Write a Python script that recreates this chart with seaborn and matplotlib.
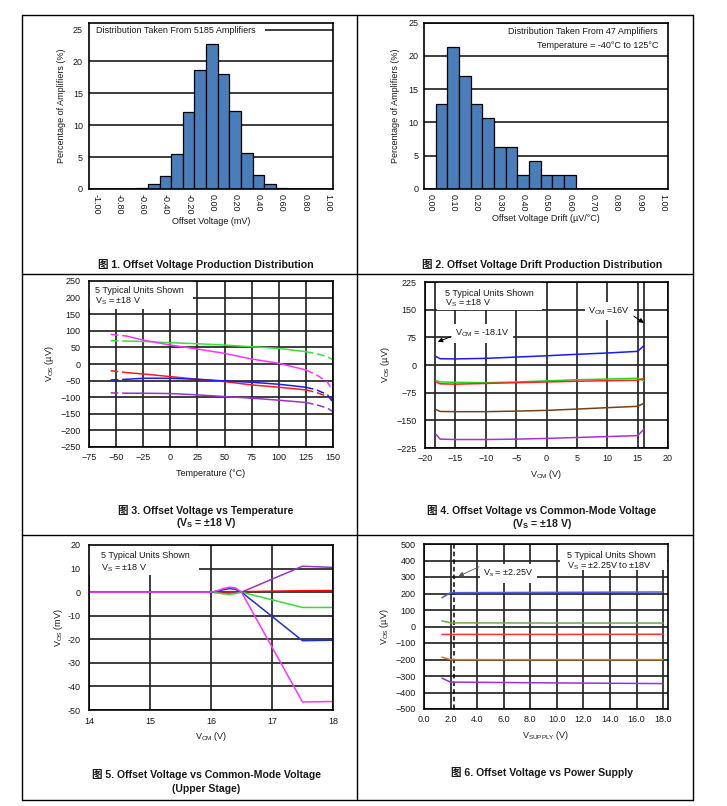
"""Offset voltage characteristics: six panel datasheet figure (Fig 1 - Fig 6)"""

import matplotlib

matplotlib.use("Agg")
import matplotlib.pyplot as plt
from matplotlib.lines import Line2D
from matplotlib.patches import Rectangle
import seaborn as sns

W, H = 727, 806

##### Data ###################################################################
# Fig 1: offset voltage histogram (bin centre in mV, percent of amplifiers)
offset_bins = [-0.7, -0.6, -0.5, -0.4, -0.3, -0.2, -0.1, 0.0, 0.1, 0.2, 0.3, 0.4, 0.5, 0.6, 0.7]
offset_pct = [0.05, 0.2, 0.75, 2.0, 5.45, 12.05, 18.6, 22.8, 18.0, 12.25, 5.65, 2.25, 0.75, 0.2, 0.05]
offset_ticks = [-1.0, -0.8, -0.6, -0.4, -0.2, 0.0, 0.2, 0.4, 0.6, 0.8, 1.0]
offset_ticklabels = ["-1.00", "-0.80", "-0.60", "-0.40", "-0.20", "0.00",
                     "0.20", "0.40", "0.60", "0.80", "1.00"]

# Fig 2: offset drift histogram (bin centre in uV/C, percent of 47 amplifiers)
drift_bins = [0.05, 0.10, 0.15, 0.20, 0.25, 0.30, 0.35, 0.40, 0.45, 0.50, 0.55, 0.60]
drift_pct = [12.77, 21.28, 17.02, 12.77, 10.64, 6.38, 6.38, 2.13, 4.26, 2.13, 2.13, 2.13]
drift_ticks = [0.0, 0.1, 0.2, 0.3, 0.4, 0.5, 0.6, 0.7, 0.8, 0.9, 1.0]
drift_ticklabels = ["0.00", "0.10", "0.20", "0.30", "0.40", "0.50",
                    "0.60", "0.70", "0.80", "0.90", "1.00"]

# Fig 3: Vos (uV) vs temperature (C); ends (first / last segments) are dashed
temp_c = [-55, -40, -25, 0, 25, 50, 75, 100, 125, 135, 145, 150]
temp_green = [70, 69, 68, 64, 61, 57, 52, 47, 37, 31, 22, 12]
temp_magenta = [89, 84, 72, 57, 45, 32, 15, 2, -18, -33, -55, -83]
temp_red = [-20, -26, -30, -38, -46, -53, -63, -70, -78, -86, -98, -108]
temp_blue = [-48, -46, -43, -43, -46, -51, -55, -61, -70, -78, -93, -116]
temp_purple = [-87, -88, -88, -89, -93, -98, -103, -109, -116, -123, -133, -144]

# Fig 4: Vos (uV) vs common-mode voltage (V)
vcm = [-18.2, -17.5, -15, -10, -5, 0, 5, 10, 15, 16]
vcm_blue = [23, 17, 16.5, 18, 21.5, 25, 29, 32.5, 37, 52]
vcm_green = [-42, -46, -47, -48, -46, -43, -40, -38, -36, -43]
vcm_red = [-46, -51, -52, -50, -48, -46, -44, -42.5, -41.5, -36]
vcm_brown = [-121, -126, -126.5, -126.5, -125, -123, -119.5, -115.7, -112, -104]
vcm_purple = [-188, -201, -202, -202, -201, -199, -196.5, -194, -191.5, -175]

# Fig 5: Vos (mV) vs common-mode voltage, upper stage (V)
vcm_up = [14.0, 16.0, 16.1, 16.2, 16.3, 16.4, 16.5, 17.5, 18.0]
up_purple = [0, 0, -0.2, -0.5, -0.5, -0.3, 0, 11.0, 10.5]
up_red = [0, 0, 0, 0.1, 0.2, 0.2, 0.2, 0.6, 0.7]
up_green = [0, 0, -0.3, -0.7, -0.9, -0.6, 0, -6.5, -6.5]
up_blue = [0, 0, 0.4, 1.0, 1.5, 1.2, 0, -20.6, -20.4]
up_magenta = [0, 0, 0.6, 1.5, 2.1, 1.8, 0, -46.6, -46.4]
up_xticks = [14, 15, 16, 17, 18]
up_yticks = [-50, -40, -30, -20, -10, 0, 10, 20]
up_yticklabels = ["-50", "-40", "-30", "-20", "-10", "0", "10", "20"]

# Fig 6: Vos (uV) vs supply voltage (V)
vsupply = [1.35, 2.0, 10.0, 18.0]
sup_blue = [174, 205, 207, 209]
sup_green = [34, 22, 21, 21]
sup_red = [-48, -48, -48, -47]
sup_orange = [-186, -201, -201, -201]
sup_purple = [-313, -337, -342, -346]
sup_xticks = [0, 2, 4, 6, 8, 10, 12, 14, 16, 18]
sup_xticklabels = ["0.0", "2.0", "4.0", "6.0", "8.0", "10.0", "12.0", "14.0", "16.0", "18.0"]

##### Style #####################################################################
sns.set_style("white")
plt.rcParams["font.family"] = ["Liberation Sans", "DejaVu Sans"]
plt.rcParams["font.size"] = 6.5
TXT = "#1a1a1a"
GRID = "#262626"
GRID_LW = 1.25
BAR = "#4a7ebb"
CAPTION_FONT = ["Liberation Sans", "Noto Sans CJK SC", "DejaVu Sans"]
DASH = (0, (5, 2.5))


def px_rect(l, t, r, b):
    return [l / W, 1 - b / H, (r - l) / W, (b - t) / H]


def frame(ax, ticklen=0, xpad=4.3, ypad=6):
    for sp in ax.spines.values():
        sp.set_visible(True)
        sp.set_color("black")
        sp.set_linewidth(1.2)
    ax.tick_params(axis="both", labelsize=6.5, colors=TXT, length=ticklen,
                   width=0.8, direction="out")
    ax.tick_params(axis="x", pad=xpad)
    ax.tick_params(axis="y", pad=ypad)
    ax.set_axisbelow(True)


def labels(ax, xlabel, ylabel, xy, yx):
    ax.set_xlabel(xlabel, fontsize=6.5, color=TXT, va="center")
    ax.set_ylabel(ylabel, fontsize=6.5, color=TXT, va="center")
    ax.xaxis.set_label_coords(0.5, xy)
    ax.yaxis.set_label_coords(yx, 0.5)


def white_box(ax, x0, y0, x1, y1):
    ax.add_patch(Rectangle((x0, y0), x1 - x0, y1 - y0, transform=ax.transAxes,
                           facecolor="white", edgecolor="none", zorder=1.5))


def box_text(ax, x, y, s, ha="left"):
    ax.text(x, y, s, transform=ax.transAxes, ha=ha, va="center",
            fontsize=6.5, color=TXT, zorder=3)


fig = plt.figure(figsize=(W / 100, H / 100), dpi=100)

##### Fig 1 #####################################################################
ax1 = fig.add_axes(px_rect(89, 22.5, 333, 189))
sns.barplot(x=offset_bins, y=offset_pct, native_scale=True, width=1, color=BAR,
            saturation=1, edgecolor="black", linewidth=0.9, errorbar=None, ax=ax1)
ax1.set_xlim(-1.058, 1.043)
ax1.set_ylim(0, 26.1)
ax1.set_yticks([0, 5, 10, 15, 20, 25])
ax1.set_xticks(offset_ticks, offset_ticklabels, rotation=-90)
ax1.grid(False)
ax1.grid(True, axis="y", color=GRID, lw=GRID_LW)
frame(ax1, ticklen=2.5, xpad=1, ypad=1.8)
labels(ax1, "Offset Voltage (mV)", "Percentage of Amplifiers (%)", -0.195, -0.112)
white_box(ax1, 0, 0.905, 0.72, 0.995)
box_text(ax1, 0.027, 0.949, "Distribution Taken From 5185 Amplifiers")

##### Fig 2 #####################################################################
ax2 = fig.add_axes(px_rect(424, 22.5, 668, 189))
sns.barplot(x=drift_bins, y=drift_pct, native_scale=True, width=1, color=BAR,
            saturation=1, edgecolor="black", linewidth=0.9, errorbar=None, ax=ax2)
ax2.set_xlim(-0.025, 1.021)
ax2.set_ylim(0, 25)
ax2.set_yticks([0, 5, 10, 15, 20, 25])
ax2.set_xticks(drift_ticks, drift_ticklabels, rotation=-90)
ax2.grid(False)
ax2.grid(True, axis="y", color=GRID, lw=GRID_LW)
frame(ax2, ticklen=2.5, xpad=1, ypad=1.5)
labels(ax2, "Offset Voltage Drift (\u00b5V/\u00b0C)", "Percentage of Amplifiers (%)",
       -0.175, -0.116)
box_text(ax2, 0.959, 0.945, "Distribution Taken From 47 Amplifiers", ha="right")
box_text(ax2, 0.959, 0.859, "Temperature = -40\u00b0C to 125\u00b0C", ha="right")

##### Fig 3 #####################################################################
ax3 = fig.add_axes(px_rect(89, 281, 333, 447))
for vals, col in [(temp_green, "#33e633"), (temp_magenta, "#ff33ff"),
                  (temp_red, "#ff1a1a"), (temp_blue, "#1a1aff"),
                  (temp_purple, "#9933cc")]:
    sns.lineplot(x=temp_c[0:2], y=vals[0:2], color=col, lw=1.1, ls=DASH, ax=ax3)
    sns.lineplot(x=temp_c[1:9], y=vals[1:9], color=col, lw=1.1, ax=ax3)
    sns.lineplot(x=temp_c[8:], y=vals[8:], color=col, lw=1.1, ls=DASH, ax=ax3)
ax3.set_xlim(-75, 150)
ax3.set_ylim(-250, 250)
ax3.set_xticks(list(range(-75, 151, 25)))
ax3.set_yticks(list(range(-250, 251, 50)))
ax3.grid(True, color=GRID, lw=GRID_LW)
frame(ax3)
labels(ax3, "Temperature (\u00b0C)", "V$_\\mathregular{OS}$ (\u00b5V)", -0.158, -0.16)
white_box(ax3, 0, 0.834, 0.428, 0.997)
box_text(ax3, 0.025, 0.942, "5 Typical Units Shown")
box_text(ax3, 0.025, 0.880, "V$_\\mathregular{S}$ = \u00b118 V")

##### Fig 4 #####################################################################
ax4 = fig.add_axes(px_rect(425, 282, 668, 448))
for vals, col in [(vcm_blue, "#1a1aee"), (vcm_green, "#1add1a"),
                  (vcm_red, "#ff2020"), (vcm_brown, "#7b3f10"),
                  (vcm_purple, "#a632d9")]:
    sns.lineplot(x=vcm, y=vals, color=col, lw=1.1, ax=ax4)
ax4.axvline(-18.4, color=GRID, lw=GRID_LW, zorder=0.6)
ax4.axvline(16.1, color=GRID, lw=GRID_LW, zorder=0.6)
ax4.set_xlim(-20, 20)
ax4.set_ylim(-225, 225)
ax4.set_xticks(list(range(-20, 21, 5)))
ax4.set_yticks(list(range(-225, 226, 75)))
ax4.grid(True, color=GRID, lw=GRID_LW)
frame(ax4)
labels(ax4, "V$_\\mathregular{CM}$ (V)", "V$_\\mathregular{OS}$ (\u00b5V)", -0.158, -0.162)
white_box(ax4, 0.048, 0.83, 0.48, 0.997)
box_text(ax4, 0.082, 0.928, "5 Typical Units Shown")
box_text(ax4, 0.082, 0.872, "V$_\\mathregular{S}$ = \u00b118 V")
ax4.text(-15.1, 85, "V$_\\mathregular{CM}$ = -18.1V", ha="left", va="center",
         fontsize=6.5, color=TXT, zorder=3,
         bbox=dict(facecolor="white", edgecolor="none", pad=2.5))
ax4.annotate("", xy=(-17.9, 63), xytext=(-15.7, 77),
             arrowprops=dict(arrowstyle="-|>", color="black", lw=0.7,
                             mutation_scale=7, shrinkA=0, shrinkB=0), zorder=3)
ax4.text(6.9, 146, "V$_\\mathregular{CM}$ =16V", ha="left", va="center",
         fontsize=6.5, color=TXT, zorder=3,
         bbox=dict(facecolor="white", edgecolor="none", pad=2.5))
ax4.annotate("", xy=(16.05, 114), xytext=(14.4, 132),
             arrowprops=dict(arrowstyle="-|>", color="black", lw=0.7,
                             mutation_scale=7, shrinkA=0, shrinkB=0), zorder=3)

##### Fig 5 #####################################################################
ax5 = fig.add_axes(px_rect(89, 545, 333, 710))
for vals, col in [(up_purple, "#9933cc"), (up_red, "#ff0000"),
                  (up_green, "#33dd33"), (up_blue, "#1a33cc"),
                  (up_magenta, "#ff33ff")]:
    sns.lineplot(x=vcm_up, y=vals, color=col, lw=1.1, ax=ax5)
ax5.set_xlim(14, 18)
ax5.set_ylim(-50, 20)
ax5.set_xticks(up_xticks, [str(v) for v in up_xticks])
ax5.set_yticks(up_yticks, up_yticklabels)
ax5.grid(True, color=GRID, lw=GRID_LW)
frame(ax5, xpad=5)
labels(ax5, "V$_\\mathregular{CM}$ (V)", "V$_\\mathregular{OS}$ (mV)", -0.162, -0.126)
white_box(ax5, 0, 0.818, 0.449, 0.997)
box_text(ax5, 0.048, 0.935, "5 Typical Units Shown")
box_text(ax5, 0.048, 0.859, "V$_\\mathregular{S}$ = \u00b118 V")

##### Fig 6 #####################################################################
ax6 = fig.add_axes(px_rect(424, 544, 668, 709))
for vals, col in [(sup_blue, "#4d5ee0"), (sup_green, "#6aa84f"),
                  (sup_red, "#ff3333"), (sup_orange, "#e86f1c"),
                  (sup_purple, "#9b30d9")]:
    sns.lineplot(x=vsupply, y=vals, color=col, lw=1.1, ax=ax6)
ax6.axvline(2.25, color="black", lw=1.1, ls=(0, (3, 2)), zorder=1.8)
ax6.set_xlim(0, 18.37)
ax6.set_ylim(-500, 500)
ax6.set_xticks(sup_xticks, sup_xticklabels)
ax6.set_yticks(list(range(-500, 501, 100)))
ax6.grid(True, color=GRID, lw=GRID_LW)
frame(ax6)
labels(ax6, "V$_\\mathregular{SUPPLY}$ (V)", "V$_\\mathregular{OS}$ (\u00b5V)", -0.158, -0.16)
white_box(ax6, 0.558, 0.843, 0.997, 0.997)
box_text(ax6, 0.585, 0.933, "5 Typical Units Shown")
box_text(ax6, 0.585, 0.868, "V$_\\mathregular{S}$ = \u00b12.25V to \u00b118V")
ax6.text(4.45, 322, "V$_\\mathregular{s}$ = \u00b12.25V", ha="left", va="center",
         fontsize=6.5, color=TXT, zorder=3,
         bbox=dict(facecolor="white", edgecolor="none", pad=2.5))
ax6.annotate("", xy=(2.6, 305), xytext=(4.15, 362),
             arrowprops=dict(arrowstyle="-|>", color="#555555", lw=0.6,
                             mutation_scale=7, shrinkA=0, shrinkB=0), zorder=3)

##### Table frame and captions ##################################################
def fig_line(x0, y0, x1, y1):
    fig.add_artist(Line2D([x0 / W, x1 / W], [1 - y0 / H, 1 - y1 / H],
                          transform=fig.transFigure, color="black", lw=1.0))


fig_line(22, 15, 693, 15)
fig_line(22, 274, 693, 274)
fig_line(22, 535, 693, 535)
fig_line(22, 800, 693, 800)
fig_line(22, 15, 22, 800)
fig_line(357, 15, 357, 800)
fig_line(693, 15, 693, 800)

captions = [
    (206, 264, "\u56fe 1. Offset Voltage Production Distribution"),
    (542, 264, "\u56fe 2. Offset Voltage Drift Production Distribution"),
    (206, 510, "\u56fe 3. Offset Voltage vs Temperature"),
    (206, 523, "(V$_\\mathregular{S}$ = \u00b118 V)"),
    (542, 511, "\u56fe 4. Offset Voltage vs Common-Mode Voltage"),
    (542, 524, "(V$_\\mathregular{S}$ = \u00b118 V)"),
    (206, 775, "\u56fe 5. Offset Voltage vs Common-Mode Voltage"),
    (206, 789, "(Upper Stage)"),
    (542, 773, "\u56fe 6. Offset Voltage vs Power Supply"),
]
for cx, cy, s in captions:
    fig.text(cx / W, 1 - cy / H, s, ha="center", va="center", fontsize=7.6,
             fontweight="bold", color=TXT, family=CAPTION_FONT)

fig.savefig("out.png", dpi=100)
plt.close()
